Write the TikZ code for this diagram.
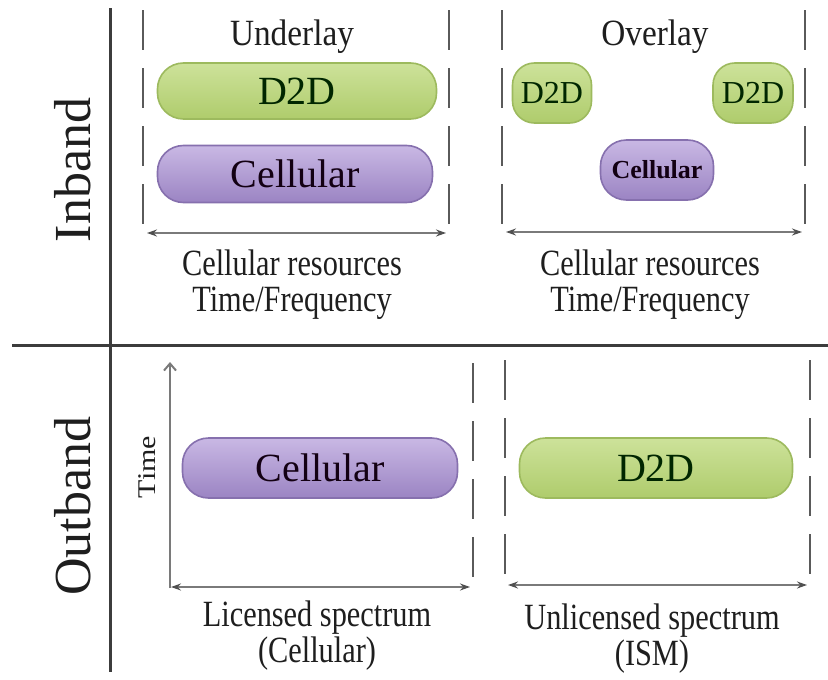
\documentclass[tikz,border=0pt]{standalone}
\usepackage{fontspec}
\setmainfont{Liberation Serif}
\usetikzlibrary{arrows.meta}
\definecolor{txt}{HTML}{1E1E1E}
\definecolor{sep}{HTML}{3C3C3C}
\definecolor{dash}{HTML}{5A5A5A}
\definecolor{axis}{HTML}{7A7A7A}
\definecolor{tip}{HTML}{505050}
\definecolor{gtop}{HTML}{CDE29A}
\definecolor{gmid}{HTML}{E6F1C8}
\definecolor{gbot}{HTML}{AFCC6C}
\definecolor{gbrd}{HTML}{9DBA5E}
\definecolor{ptop}{HTML}{C9B8E4}
\definecolor{pmid}{HTML}{DDD0EF}
\definecolor{pbot}{HTML}{9B84C3}
\definecolor{pbrd}{HTML}{8670AE}
\begin{document}
\begin{tikzpicture}[x=1pt,y=-1pt,
  greenpill/.style={draw=gbrd,line width=1.6pt,rounded corners=26pt,top color=gtop,middle color=gmid,bottom color=gbot,text=black!85!green,inner sep=0pt},
  purplepill/.style={draw=pbrd,line width=1.6pt,rounded corners=26pt,top color=ptop,middle color=pmid,bottom color=pbot,text=black!85!violet,inner sep=0pt},
  bigtxt/.style={font=\fontsize{40}{44}\selectfont},
  head/.style={font=\fontsize{37}{40}\selectfont,text=txt,inner sep=0pt,xscale=0.9},
  lab/.style={font=\fontsize{37}{36}\selectfont,text=txt,align=center,inner sep=0pt,xscale=0.82},
  side/.style={font=\fontsize{52}{54}\selectfont,text=txt,rotate=90,inner sep=0pt},
  sepline/.style={draw=sep,line width=3pt},
  dashline/.style={draw=dash,line width=1.8pt,dash pattern=on 40pt off 18pt},
  rangearrow/.style={draw=axis,line width=2pt,{Stealth[length=10pt,width=7pt,color=tip]}-{Stealth[length=10pt,width=7pt,color=tip]}},
  timearrow/.style={draw=axis,line width=2pt,-{Straight Barb[length=7pt,width=12pt]}}
]
\useasboundingbox (0,0) rectangle (828,680);
\fill[white] (0,0) rectangle (828,680);

% separators
\coordinate (vtop) at (110,8);
\coordinate (vbot) at (110,672);
\coordinate (hl) at (12,345);
\coordinate (hr) at (828,345);
\draw[sepline] (vtop) -- (vbot);
\draw[sepline] (hl) -- (hr);

% side labels
\node[side] (inband) at (73,170) {Inband};
\node[side] (outband) at (73,506) {Outband};

% ---------- Underlay ----------
\node[head] (underlay) at (292,37) {Underlay};
\coordinate (ulA) at (143,10); \coordinate (ulB) at (143,232);
\coordinate (ulC) at (449,10); \coordinate (ulD) at (449,232);
\draw[dashline] (ulA) -- (ulB);
\draw[dashline] (ulC) -- (ulD);
\coordinate (ulL) at (147,233); \coordinate (ulR) at (446,233);
\draw[rangearrow] (ulL) -- (ulR);
\node[greenpill,bigtxt,minimum width=279pt,minimum height=56pt] (uld2d) at (297,91) {D2D};
\node[purplepill,bigtxt,minimum width=275pt,minimum height=57pt] (ulcell) at (295,174) {Cellular};
\node[lab] (ullab) at (292,285) {Cellular resources\\Time/Frequency};

% ---------- Overlay ----------
\node[head] (overlay) at (655,37) {Overlay};
\coordinate (ovA) at (502,10); \coordinate (ovB) at (502,231);
\coordinate (ovC) at (805,10); \coordinate (ovD) at (805,231);
\draw[dashline] (ovA) -- (ovB);
\draw[dashline] (ovC) -- (ovD);
\coordinate (ovL) at (506,232); \coordinate (ovR) at (802,232);
\draw[rangearrow] (ovL) -- (ovR);
\node[greenpill,font=\fontsize{32}{34}\selectfont,minimum width=79pt,minimum height=60pt,rounded corners=22pt] (ovd2da) at (552,93) {D2D};
\node[greenpill,font=\fontsize{32}{34}\selectfont,minimum width=80pt,minimum height=60pt,rounded corners=22pt] (ovd2db) at (753,93) {D2D};
\node[purplepill,font=\fontsize{26}{28}\selectfont\bfseries,minimum width=113pt,minimum height=60pt,rounded corners=26pt] (ovcell) at (657,170) {Cellular};
\node[lab] (ovlab) at (650,285) {Cellular resources\\Time/Frequency};

% ---------- Outband licensed ----------
\coordinate (ax0) at (170,588); \coordinate (axT) at (170,362);
\draw[timearrow] (ax0) -- (axT);
\node[font=\fontsize{30}{32}\selectfont,text=txt,rotate=90,inner sep=0pt,yscale=0.85] (time) at (147,467) {Time};
\coordinate (blA) at (473,363); \coordinate (blB) at (473,586);
\draw[dashline] (blA) -- (blB);
\coordinate (blL) at (171,587); \coordinate (blR) at (470,587);
\draw[rangearrow] (blL) -- (blR);
\node[purplepill,bigtxt,minimum width=275pt,minimum height=60pt] (obcell) at (320,468) {Cellular};
\node[lab] (bllab) at (317,636) {Licensed spectrum\\(Cellular)};

% ---------- Outband unlicensed ----------
\coordinate (brA) at (505,360); \coordinate (brB) at (505,584);
\coordinate (brC) at (810,360); \coordinate (brD) at (810,584);
\draw[dashline] (brA) -- (brB);
\draw[dashline] (brC) -- (brD);
\coordinate (brL) at (508,585); \coordinate (brR) at (807,585);
\draw[rangearrow] (brL) -- (brR);
\node[greenpill,bigtxt,minimum width=273pt,minimum height=60pt] (obd2d) at (656,468) {D2D};
\node[lab] (brlab) at (652,639) {Unlicensed spectrum\\(ISM)};
\end{tikzpicture}
\end{document}
